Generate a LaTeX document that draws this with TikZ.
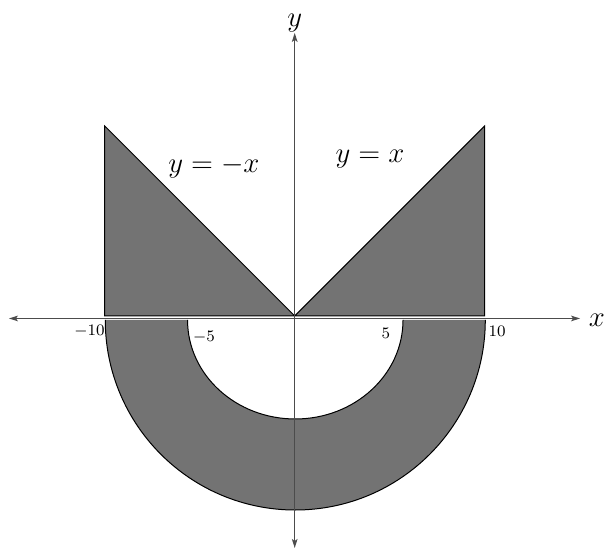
\documentclass[tikz,border=0pt]{standalone}
\usetikzlibrary{arrows.meta}
\begin{document}
\begin{tikzpicture}[x=9.5pt,y=9.5pt,
  region/.style={fill=black!55,draw=black,line width=0.5pt,line join=miter},
  regionfill/.style={fill=black!55},
  edge/.style={draw=black,line width=0.5pt},
  axis/.style={draw=black!70,line width=0.6pt,{Stealth[length=4.5pt,width=2.8pt,inset=1pt]}-{Stealth[length=4.5pt,width=2.8pt,inset=1pt]}},
  bigmath/.style={font=\fontsize{14.4}{17}\selectfont,inner sep=0pt},
  tick/.style={font=\fontsize{8}{9.6}\selectfont,inner sep=0pt}]
\useasboundingbox (-15.51,-12.32) rectangle (16.33,16.63);
% upper region
\path[region] (-10,0) -- (-10,10) -- (0,0) -- (10,10) -- (10,0) -- cycle;
% lower region (annulus half): fill, then outline without its top edge
\path[regionfill] (-9.97,-0.21) arc[start angle=180,end angle=360,radius=10]
  -- (5.70,-0.21) arc[start angle=0,end angle=-180,x radius=5.67,y radius=5.21]
  -- cycle;
\path[edge] (-9.97,-0.21) arc[start angle=180,end angle=360,radius=10];
\path[edge] (5.70,-0.21) arc[start angle=0,end angle=-180,x radius=5.67,y radius=5.21];
% axes
\coordinate (xl) at (-15.04,-0.13);
\coordinate (xr) at (15.02,-0.13);
\coordinate (yb) at (0,-12.21);
\coordinate (yt) at (0,14.9);
\draw[axis] (xl) -- (xr);
\draw[axis] (yb) -- (yt);
% labels
\node[bigmath] (xlab) at (15.9,-0.21) {$x$};
\node[bigmath] (ylab) at (0,15.4) {$y$};
\node[bigmath,anchor=base] (lneg) at (-4.25,7.53) {$y=-x$};
\node[bigmath,anchor=base] (lpos) at (3.96,8.1) {$y=x$};
\node[tick] (tm10) at (-10.8,-0.79) {$-10$};
\node[tick] (tm5) at (-4.77,-1.11) {$-5$};
\node[tick] (t5) at (4.8,-0.89) {$5$};
\node[tick] (t10) at (10.65,-0.79) {$10$};
\end{tikzpicture}
\end{document}
